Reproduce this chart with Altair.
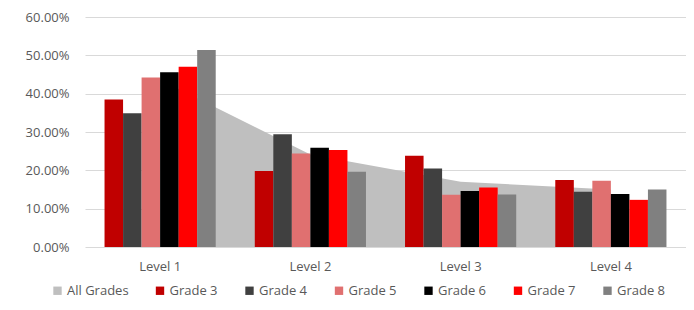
import altair as alt
import pandas as pd

levels = ["Level 1", "Level 2", "Level 3", "Level 4"]
series_names = ["All Grades", "Grade 3", "Grade 4", "Grade 5", "Grade 6", "Grade 7", "Grade 8"]
series_colors = ["#BFBFBF", "#C00000", "#404040", "#E07070", "#000000", "#FF0000", "#808080"]

all_grades = [0.436, 0.241, 0.170, 0.150]
grade3 = [0.385, 0.198, 0.238, 0.175]
grade4 = [0.349, 0.294, 0.205, 0.144]
grade5 = [0.442, 0.244, 0.136, 0.173]
grade6 = [0.456, 0.259, 0.146, 0.138]
grade7 = [0.470, 0.253, 0.155, 0.123]
grade8 = [0.514, 0.196, 0.137, 0.150]

grade_values = [grade3, grade4, grade5, grade6, grade7, grade8]
grade_names = series_names[1:]

bar_rows = []
for name, vals in zip(grade_names, grade_values):
    for lvl, v in zip(levels, vals):
        bar_rows.append({"level": lvl, "series": name, "value": v})
bars_df = pd.DataFrame(bar_rows)
area_df = pd.DataFrame({"level": levels, "series": "All Grades", "value": all_grades})

FONT = "Open Sans"
GREY = "#595959"

x_scale = alt.Scale(domain=levels, paddingInner=0.26, paddingOuter=0.13)
x_axis = alt.Axis(title=None, labelAngle=0, domain=False, ticks=False, grid=False,
                  labelPadding=13, labelFontSize=13, labelColor=GREY, labelFont=FONT)
y_enc = alt.Y(
    "value:Q",
    scale=alt.Scale(domain=[0, 0.6]),
    axis=alt.Axis(
        format=".2%", values=[0, 0.1, 0.2, 0.3, 0.4, 0.5, 0.6], title=None,
        domain=False, ticks=False, labelPadding=16, labelFontSize=13,
        labelColor=GREY, labelFont=FONT, gridColor="#D9D9D9", gridWidth=1.2,
    ),
)
color_enc = alt.Color(
    "series:N",
    scale=alt.Scale(domain=series_names, range=series_colors),
    legend=alt.Legend(
        orient="none", legendX=-34, legendY=267, direction="horizontal", columns=7,
        title=None, symbolType="square", symbolSize=70, symbolStrokeWidth=0,
        labelFontSize=13, labelColor=GREY, labelFont=FONT, labelOffset=3,
        columnPadding=24.5, symbolOpacity=1,
    ),
)

area = alt.Chart(area_df).mark_area(opacity=1, color="#BFBFBF").encode(
    x=alt.X("level:N", sort=levels, scale=x_scale, bandPosition=0.5, axis=x_axis),
    y=y_enc,
    color=color_enc,
)

bars = alt.Chart(bars_df).mark_bar().encode(
    x=alt.X("level:N", sort=levels, scale=x_scale, axis=x_axis),
    xOffset=alt.XOffset("series:N", sort=grade_names,
                        scale=alt.Scale(domain=grade_names, paddingInner=0, paddingOuter=0)),
    y=y_enc,
    color=color_enc,
)

chart = alt.layer(area, bars).properties(
    width=601, height=230,
    autosize=alt.AutoSizeParams(type="none"),
    padding={"left": 77, "top": 9, "right": 0, "bottom": 55},
).configure(background="white").configure_view(strokeWidth=0, stroke="transparent")

chart.save("out.html", embed_options={"renderer": "svg", "actions": False})
